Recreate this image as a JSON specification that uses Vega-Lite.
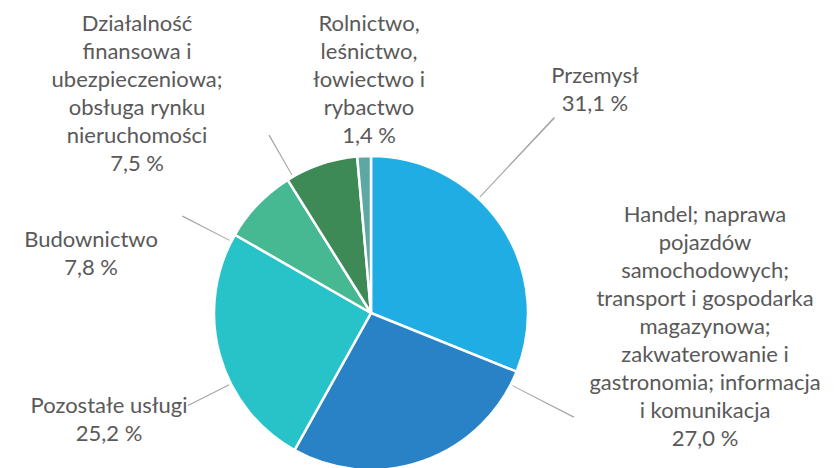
{
  "$schema": "https://vega.github.io/schema/vega-lite/v6.json",
  "width": 742,
  "height": 310,
  "autosize": {"type": "none"},
  "padding": {"left": 0, "top": 158, "right": 96, "bottom": 0},
  "background": "white",
  "view": {"stroke": null},
  "data": {
    "values": [
      {"idx": 1, "cat": "Przemysł", "label": "Przemysł", "value": 31.1},
      {"idx": 2, "cat": "Handel", "label": "Handel; naprawa\npojazdów\nsamochodowych;\ntransport i gospodarka\nmagazynowa;\nzakwaterowanie i\ngastronomia; informacja\ni komunikacja", "value": 27.0},
      {"idx": 3, "cat": "Pozostałe usługi", "label": "Pozostałe usługi", "value": 25.2},
      {"idx": 4, "cat": "Budownictwo", "label": "Budownictwo", "value": 7.8},
      {"idx": 5, "cat": "Finanse", "label": "Działalność\nfinansowa i\nubezpieczeniowa;\nobsługa rynku\nnieruchomości", "value": 7.5},
      {"idx": 6, "cat": "Rolnictwo", "label": "Rolnictwo,\nleśnictwo,\nłowiectwo i\nrybactwo", "value": 1.4}
    ]
  },
  "transform": [
    {"window": [{"op": "sum", "field": "value", "as": "cum"}], "sort": [{"field": "idx"}], "frame": [null, 0]},
    {"calculate": "datum.cum - datum.value / 2", "as": "mid"},
    {"calculate": "datum.mid + 0.1", "as": "mid2"},
    {"calculate": "datum.label + '\\n' + replace(format(datum.value, '.1f'), '.', ',') + ' %'", "as": "txt"}
  ],
  "layer": [
    {
      "mark": {"type": "arc", "radius": 157, "stroke": "white", "strokeWidth": 2.5},
      "encoding": {
        "theta": {"field": "value", "type": "quantitative", "stack": true, "scale": {"domain": [0, 100]}},
        "color": {
          "field": "cat", "type": "nominal", "legend": null,
          "scale": {
            "domain": ["Przemysł", "Handel", "Pozostałe usługi", "Budownictwo", "Finanse", "Rolnictwo"],
            "range": ["#1fade3", "#2a82c6", "#27c3c9", "#46b993", "#3d8a56", "#5ea8a4"]
          }
        },
        "order": {"field": "idx", "type": "quantitative"}
      }
    },
    {
      "transform": [{"filter": "datum.idx == 1"}],
      "mark": {"type": "arc", "radius": 268, "radius2": 159, "thetaOffset": -0.2265, "theta2Offset": -0.2265, "color": "#a6a6a6"},
      "encoding": {"theta": {"field": "mid", "type": "quantitative", "stack": false}, "theta2": {"field": "mid2"}}
    },
    {
      "transform": [{"filter": "datum.idx == 2"}],
      "mark": {"type": "arc", "radius": 228, "radius2": 159, "thetaOffset": -0.7603, "theta2Offset": -0.7603, "color": "#a6a6a6"},
      "encoding": {"theta": {"field": "mid", "type": "quantitative", "stack": false}, "theta2": {"field": "mid2"}}
    },
    {
      "transform": [{"filter": "datum.idx == 3"}],
      "mark": {"type": "arc", "radius": 205, "radius2": 159, "thetaOffset": -0.2011, "theta2Offset": -0.2011, "color": "#a6a6a6"},
      "encoding": {"theta": {"field": "mid", "type": "quantitative", "stack": false}, "theta2": {"field": "mid2"}}
    },
    {
      "transform": [{"filter": "datum.idx == 4"}],
      "mark": {"type": "arc", "radius": 212, "radius2": 159, "thetaOffset": -0.2953, "theta2Offset": -0.2953, "color": "#a6a6a6"},
      "encoding": {"theta": {"field": "mid", "type": "quantitative", "stack": false}, "theta2": {"field": "mid2"}}
    },
    {
      "transform": [{"filter": "datum.idx == 5"}],
      "mark": {"type": "arc", "radius": 205, "radius2": 159, "thetaOffset": -0.2, "theta2Offset": -0.2, "color": "#a6a6a6"},
      "encoding": {"theta": {"field": "mid", "type": "quantitative", "stack": false}, "theta2": {"field": "mid2"}}
    },
    {
      "transform": [{"filter": "datum.idx == 1"}],
      "mark": {"type": "text", "radius": 320.8, "thetaOffset": -0.2042, "align": "center", "baseline": "alphabetic", "lineBreak": "\n", "lineHeight": 28, "font": "Lato", "fontSize": 22, "color": "#595959"},
      "encoding": {"theta": {"field": "mid", "type": "quantitative", "stack": false}, "text": {"field": "txt"}}
    },
    {
      "transform": [{"filter": "datum.idx == 2"}],
      "mark": {"type": "text", "radius": 346.3, "thetaOffset": -1.4985, "align": "center", "baseline": "alphabetic", "lineBreak": "\n", "lineHeight": 28, "font": "Lato", "fontSize": 22, "color": "#595959"},
      "encoding": {"theta": {"field": "mid", "type": "quantitative", "stack": false}, "text": {"field": "txt"}}
    },
    {
      "transform": [{"filter": "datum.idx == 3"}],
      "mark": {"type": "text", "radius": 280.4, "thetaOffset": -0.0946, "align": "center", "baseline": "alphabetic", "lineBreak": "\n", "lineHeight": 28, "font": "Lato", "fontSize": 22, "color": "#595959"},
      "encoding": {"theta": {"field": "mid", "type": "quantitative", "stack": false}, "text": {"field": "txt"}}
    },
    {
      "transform": [{"filter": "datum.idx == 4"}],
      "mark": {"type": "text", "radius": 287.7, "thetaOffset": -0.5344, "align": "center", "baseline": "alphabetic", "lineBreak": "\n", "lineHeight": 28, "font": "Lato", "fontSize": 22, "color": "#595959"},
      "encoding": {"theta": {"field": "mid", "type": "quantitative", "stack": false}, "text": {"field": "txt"}}
    },
    {
      "transform": [{"filter": "datum.idx == 5"}],
      "mark": {"type": "text", "radius": 366.7, "thetaOffset": -0.3684, "align": "center", "baseline": "alphabetic", "lineBreak": "\n", "lineHeight": 28, "font": "Lato", "fontSize": 22, "color": "#595959"},
      "encoding": {"theta": {"field": "mid", "type": "quantitative", "stack": false}, "text": {"field": "txt"}}
    },
    {
      "transform": [{"filter": "datum.idx == 6"}],
      "mark": {"type": "text", "radius": 282.3, "thetaOffset": 0.037, "align": "center", "baseline": "alphabetic", "lineBreak": "\n", "lineHeight": 28, "font": "Lato", "fontSize": 22, "color": "#595959"},
      "encoding": {"theta": {"field": "mid", "type": "quantitative", "stack": false}, "text": {"field": "txt"}}
    }
  ]
}
